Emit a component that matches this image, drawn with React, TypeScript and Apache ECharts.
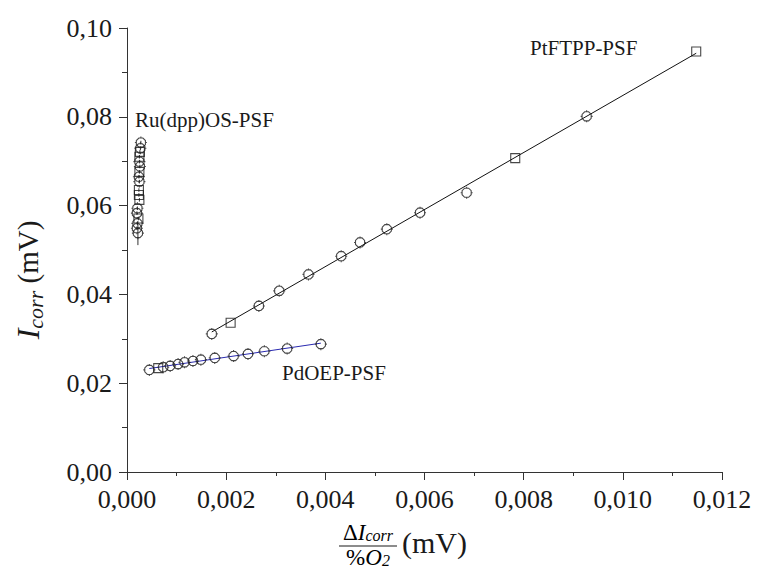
import React, { useEffect, useRef } from "react";
import * as echarts from "echarts";

// PtFTPP-PSF calibration points (c = circle, s = square)
const ptX = [0.00171, 0.00209, 0.00266, 0.00307, 0.00366, 0.00432, 0.0047, 0.00524, 0.00591, 0.00685, 0.00783, 0.00927, 0.01148];
const ptY = [0.0311, 0.0336, 0.0374, 0.0408, 0.0445, 0.0486, 0.0517, 0.0547, 0.0584, 0.0629, 0.0707, 0.0801, 0.0947];
const ptShape = ["c", "s", "c", "c", "c", "c", "c", "c", "c", "c", "s", "c", "s"];

// PdOEP-PSF calibration points
const pdX = [0.00045, 0.00063, 0.00073, 0.00087, 0.00103, 0.00116, 0.00133, 0.00149, 0.00177, 0.00215, 0.00244, 0.00277, 0.00323, 0.00391];
const pdY = [0.023, 0.0234, 0.0236, 0.0239, 0.0243, 0.0247, 0.025, 0.0253, 0.0257, 0.0261, 0.0266, 0.0272, 0.0278, 0.0288];
const pdShape = ["c", "s", "c", "c", "c", "c", "c", "c", "c", "c", "c", "c", "c", "c"];

// Ru(dpp)OS-PSF calibration points with their y error
const ruX = [0.00028, 0.00027, 0.00026, 0.00025, 0.00025, 0.00026, 0.00025, 0.00024, 0.00025, 0.00024, 0.00024, 0.00025, 0.00021, 0.00020, 0.00023, 0.00021, 0.00020, 0.00022];
const ruY = [0.0742, 0.0729, 0.0721, 0.071, 0.0699, 0.0688, 0.0676, 0.0665, 0.0654, 0.0635, 0.0624, 0.0613, 0.0594, 0.0583, 0.0571, 0.056, 0.0549, 0.0538];
const ruErr = [0.0004, 0.0004, 0.0004, 0.0004, 0.0004, 0.0004, 0.0004, 0.0004, 0.0004, 0.0004, 0.0004, 0.0004, 0.0004, 0.0004, 0.0004, 0.0004, 0.0004, 0.0027];
const ruShape = ["c", "c", "s", "s", "c", "c", "s", "c", "c", "s", "s", "s", "c", "c", "s", "c", "c", "c"];

const xTickLabels = ["0,000", "0,002", "0,004", "0,006", "0,008", "0,010", "0,012"];
const yTickLabels = ["0,00", "0,02", "0,04", "0,06", "0,08", "0,10"];

const SERIF = "'Liberation Serif', 'DejaVu Serif', serif";
const INK = "#1a1a1a";

// Octagonal marker with short error-bar caps sticking out on four sides
const NOTCHED =
  "path://M-2.2,-5L2.2,-5L5,-2.2L5,2.2L2.2,5L-2.2,5L-5,2.2L-5,-2.2Z" +
  "M0,-5L0,-6.6M0,5L0,6.6M-5,0L-6.6,0M5,0L6.6,0";

function linearFit(xs: number[], ys: number[]) {
  const n = xs.length;
  const mx = xs.reduce((a, b) => a + b, 0) / n;
  const my = ys.reduce((a, b) => a + b, 0) / n;
  let sxy = 0;
  let sxx = 0;
  for (let i = 0; i < n; i++) {
    sxy += (xs[i] - mx) * (ys[i] - my);
    sxx += (xs[i] - mx) * (xs[i] - mx);
  }
  const k = sxy / sxx;
  const b = my - k * mx;
  const x0 = Math.min(...xs);
  const x1 = Math.max(...xs);
  return [
    [x0, k * x0 + b],
    [x1, k * x1 + b],
  ];
}

function points(xs: number[], ys: number[], shapes: string[]) {
  return xs.map((x, i) => ({
    value: [x, ys[i]],
    symbol: shapes[i] === "s" ? "rect" : NOTCHED,
    symbolSize: shapes[i] === "s" ? 9 : 12,
  }));
}

const markerStyle = {
  color: "rgba(255,255,255,0)",
  borderColor: INK,
  borderWidth: 1.1,
};

export default function App() {
  const ref = useRef<HTMLDivElement>(null);

  useEffect(() => {
    if (!ref.current) return;
    const chart = echarts.init(ref.current, undefined, { renderer: "svg" });

    const fracRich = {
      n: { fontFamily: SERIF, fontSize: 23, color: INK, lineHeight: 22 },
      i: { fontFamily: SERIF, fontStyle: "italic", fontSize: 23, color: INK, lineHeight: 22 },
      s: { fontFamily: SERIF, fontStyle: "italic", fontSize: 16, color: INK, lineHeight: 10, verticalAlign: "bottom" },
    };

    chart.setOption({
      animation: false,
      backgroundColor: "#ffffff",
      grid: { left: 127, right: 35, top: 28, bottom: 96, containLabel: false },
      xAxis: {
        type: "value",
        min: 0,
        max: 0.012,
        interval: 0.002,
        axisLine: { show: true, onZero: false, lineStyle: { color: "#333", width: 1 } },
        axisTick: { show: true, length: 8, lineStyle: { color: "#333" } },
        minorTick: { show: true, splitNumber: 2, length: 4, lineStyle: { color: "#333" } },
        splitLine: { show: false },
        axisLabel: {
          margin: 14,
          fontFamily: SERIF,
          fontSize: 26,
          color: INK,
          formatter: (v: number) => xTickLabels[Math.round(v / 0.002)] ?? "",
        },
      },
      yAxis: {
        type: "value",
        min: 0,
        max: 0.1,
        interval: 0.02,
        axisLine: { show: true, onZero: false, lineStyle: { color: "#333", width: 1 } },
        axisTick: { show: true, length: 8, lineStyle: { color: "#333" } },
        minorTick: { show: true, splitNumber: 2, length: 5, lineStyle: { color: "#333" } },
        splitLine: { show: false },
        axisLabel: {
          margin: 15,
          fontFamily: SERIF,
          fontSize: 26,
          color: INK,
          formatter: (v: number) => yTickLabels[Math.round(v / 0.02)] ?? "",
        },
      },
      series: [
        {
          name: "PtFTPP fit",
          type: "line",
          data: linearFit(ptX, ptY),
          showSymbol: false,
          lineStyle: { color: "#111", width: 1 },
          z: 2,
        },
        {
          name: "PdOEP fit",
          type: "line",
          data: linearFit(pdX, pdY),
          showSymbol: false,
          lineStyle: { color: "#2a2ab0", width: 1 },
          z: 2,
        },
        {
          name: "Ru error",
          type: "custom",
          data: ruX.map((x, i) => [x, ruY[i], ruErr[i]]),
          renderItem: (_params: any, api: any) => {
            const x = api.value(0);
            const y = api.value(1);
            const e = api.value(2);
            const top = api.coord([x, y + e]);
            const bot = api.coord([x, y - e]);
            return {
              type: "line",
              shape: { x1: top[0], y1: top[1], x2: bot[0], y2: bot[1] },
              style: { stroke: "#333", lineWidth: 1 },
            };
          },
          z: 3,
        },
        {
          name: "PtFTPP-PSF",
          type: "scatter",
          data: points(ptX, ptY, ptShape),
          itemStyle: markerStyle,
          z: 4,
        },
        {
          name: "PdOEP-PSF",
          type: "scatter",
          data: points(pdX, pdY, pdShape),
          itemStyle: markerStyle,
          z: 4,
        },
        {
          name: "Ru(dpp)OS-PSF",
          type: "scatter",
          data: points(ruX, ruY, ruShape),
          itemStyle: markerStyle,
          z: 4,
        },
      ],
      graphic: [
        {
          type: "text",
          x: 530,
          y: 48,
          style: { text: "PtFTPP-PSF", fontFamily: SERIF, fontSize: 21, fill: INK, align: "left", verticalAlign: "middle" },
        },
        {
          type: "text",
          x: 135,
          y: 120,
          style: { text: "Ru(dpp)OS-PSF", fontFamily: SERIF, fontSize: 21, fill: INK, align: "left", verticalAlign: "middle" },
        },
        {
          type: "text",
          x: 282,
          y: 373,
          style: { text: "PdOEP-PSF", fontFamily: SERIF, fontSize: 21, fill: INK, align: "left", verticalAlign: "middle" },
        },
        // y-axis title
        {
          type: "text",
          x: 28,
          y: 280,
          rotation: Math.PI / 2,
          style: {
            text: "{i|I}{s|corr}{n| (mV)}",
            align: "center",
            verticalAlign: "middle",
            rich: {
              i: { fontFamily: SERIF, fontStyle: "italic", fontSize: 32, fill: INK, lineHeight: 36 },
              s: { fontFamily: SERIF, fontStyle: "italic", fontSize: 22, fill: INK, lineHeight: 18, verticalAlign: "bottom" },
              n: { fontFamily: SERIF, fontSize: 29, fill: INK, lineHeight: 36 },
            },
          },
        },
        // x-axis title: ΔI_corr / %O_2 (mV)
        {
          type: "text",
          x: 368,
          y: 532,
          style: { text: "{n|Δ}{i|I}{s|corr}", align: "center", verticalAlign: "middle", rich: fracRich },
        },
        {
          type: "line",
          shape: { x1: 339, y1: 546, x2: 397, y2: 546 },
          style: { stroke: INK, lineWidth: 1.2 },
        },
        {
          type: "text",
          x: 368,
          y: 557,
          style: { text: "{n|%}{i|O}{s|2}", align: "center", verticalAlign: "middle", rich: fracRich },
        },
        {
          type: "text",
          x: 402,
          y: 542,
          style: { text: "(mV)", fontFamily: SERIF, fontSize: 30, fill: INK, align: "left", verticalAlign: "middle" },
        },
      ],
    });

    return () => chart.dispose();
  }, []);

  return (
    <div
      ref={ref}
      style={{ position: "absolute", left: 0, top: 0, width: 757, height: 568 }}
    />
  );
}
